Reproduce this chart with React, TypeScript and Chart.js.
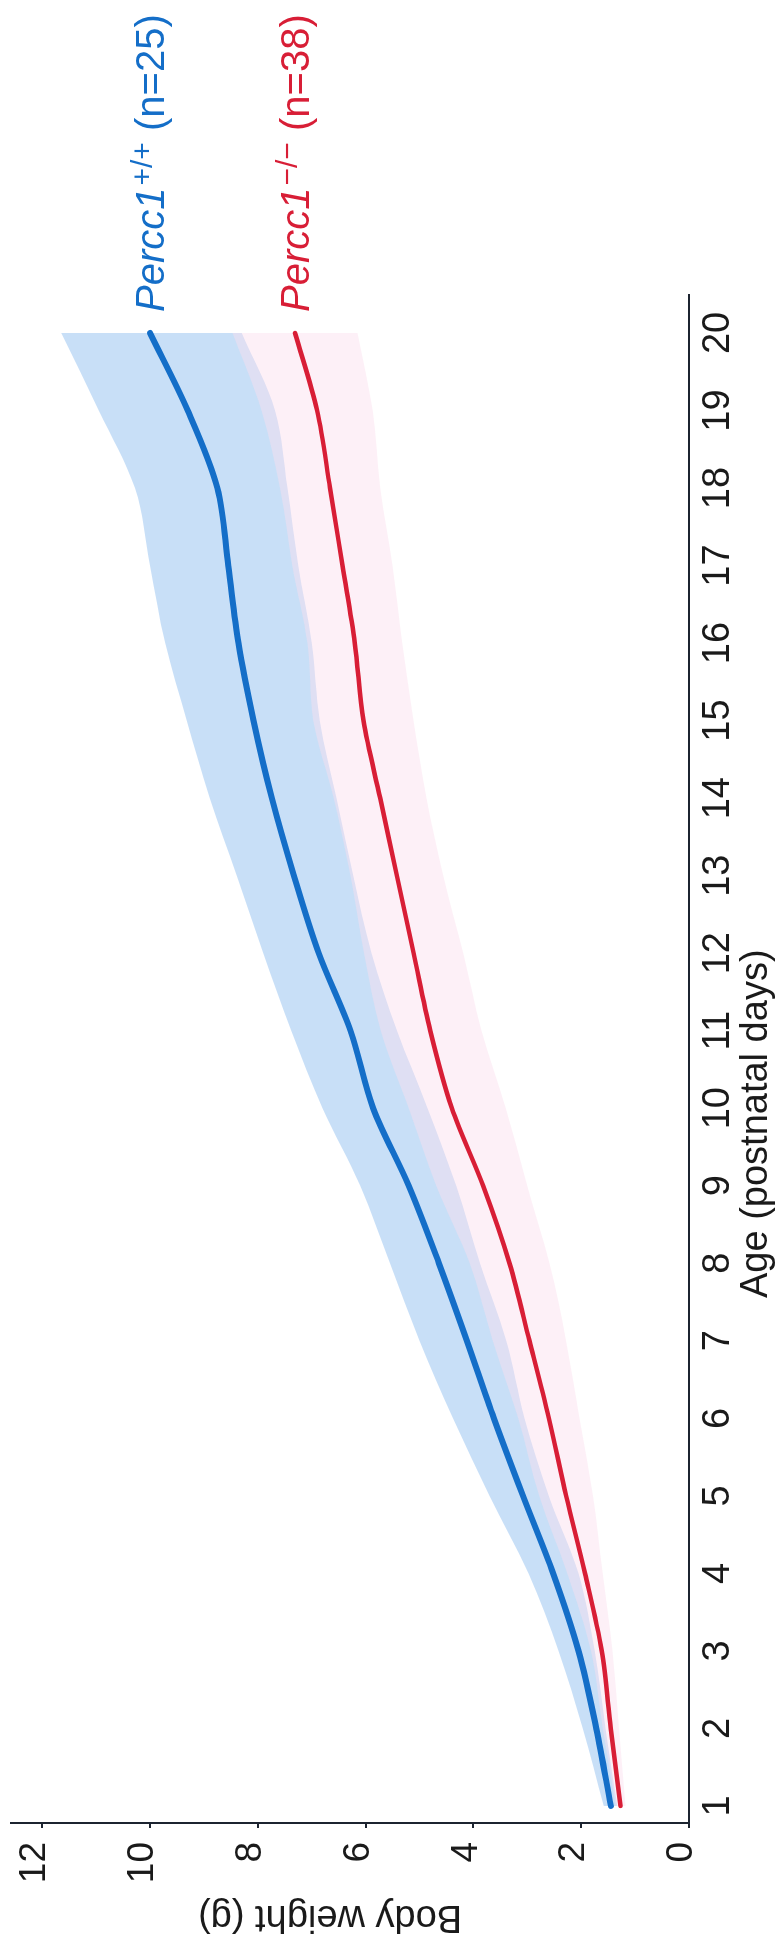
import { useEffect, useRef } from "react";
import { Chart, registerables } from "chart.js";

Chart.register(...registerables);

// Age (postnatal days)
const days = [1, 2, 3, 4, 5, 6, 7, 8, 9, 10, 11, 12, 13, 14, 15, 16, 17, 18, 19, 20];

// Percc1 +/+ (n=25): mean body weight (g) and shaded band edges
const wtMean = [1.45, 1.72, 2.05, 2.52, 3.08, 3.62, 4.12, 4.64, 5.2, 5.86, 6.28, 6.87, 7.33, 7.74, 8.08, 8.36, 8.55, 8.75, 9.3, 10.0];
const wtUpper = [1.58, 1.97, 2.42, 2.98, 3.7, 4.38, 5.0, 5.55, 6.1, 6.8, 7.38, 7.9, 8.39, 8.89, 9.32, 9.72, 10.0, 10.28, 10.95, 11.65];
const wtLower = [1.33, 1.55, 1.75, 2.05, 2.6, 3.05, 3.39, 3.88, 4.32, 4.85, 5.42, 5.89, 6.23, 6.54, 6.85, 7.0, 7.25, 7.45, 7.68, 8.3];

// Percc1 -/- (n=38): mean body weight (g) and shaded band edges
const koMean = [1.27, 1.45, 1.62, 1.93, 2.28, 2.6, 2.96, 3.33, 3.82, 4.4, 4.8, 5.11, 5.42, 5.73, 6.04, 6.2, 6.43, 6.66, 6.9, 7.31];
const koUpper = [1.36, 1.6, 1.82, 2.26, 2.78, 3.17, 3.64, 4.07, 4.69, 5.2, 5.72, 6.03, 6.28, 6.59, 6.97, 7.08, 7.36, 7.59, 7.93, 8.47];
const koLower = [1.18, 1.3, 1.42, 1.6, 1.78, 2.03, 2.28, 2.59, 3.0, 3.4, 3.85, 4.19, 4.56, 4.87, 5.11, 5.32, 5.5, 5.73, 5.87, 6.15];

const weightTicks = [0, 2, 4, 6, 8, 10, 12];

const xTitle = "Age (postnatal days)";
const yTitle = "Body weight (g)";
const wtName = "Percc1";
const wtSup = "+/+";
const wtN = " (n=25)";
const koName = "Percc1";
const koSup = "\u2212/\u2212";
const koN = " (n=38)";

const BLUE = "#146ec8";
const RED = "#d81e36";
const AXIS = "#1c2430";
const TEXT = "#1a1a1a";
const FONT = '"Liberation Sans", Arial, Helvetica, sans-serif';

const W = 1946;
const H = 783;

const pts = (vals: number[]) => days.map((d, i) => ({ x: d, y: vals[i] }));

export default function App() {
  const ref = useRef<HTMLCanvasElement | null>(null);

  useEffect(() => {
    if (!ref.current) return;

    const annotations = {
      id: "annotations",
      afterDraw(chart: any) {
        const { ctx, scales, chartArea } = chart;
        const x = scales.x;
        const y = scales.y;
        ctx.save();
        // axis titles
        ctx.fillStyle = TEXT;
        ctx.font = `38px ${FONT}`;
        ctx.textAlign = "center";
        ctx.textBaseline = "middle";
        ctx.fillText(xTitle, x.getPixelForValue(9.8), chartArea.bottom + 68);
        ctx.save();
        ctx.translate(30, y.getPixelForValue(6.66));
        ctx.rotate(-Math.PI / 2);
        ctx.fillText(yTitle, 0, 0);
        ctx.restore();

        // series labels at line ends
        const drawLabel = (name: string, sup: string, n: string, val: number, color: string) => {
          let px = x.getPixelForValue(days[days.length - 1]) + 21;
          const base = y.getPixelForValue(val) + 14;
          ctx.fillStyle = color;
          ctx.textAlign = "left";
          ctx.textBaseline = "alphabetic";
          ctx.font = `italic 40px ${FONT}`;
          ctx.fillText(name, px, base);
          px += ctx.measureText(name).width + 2;
          ctx.font = `30px ${FONT}`;
          ctx.fillText(sup, px, base - 12);
          px += ctx.measureText(sup).width;
          ctx.font = `40px ${FONT}`;
          ctx.fillText(n, px, base);
        };
        drawLabel(wtName, wtSup, wtN, wtMean[wtMean.length - 1], BLUE);
        drawLabel(koName, koSup, koN, koMean[koMean.length - 1], RED);
        ctx.restore();
      },
    };

    const band = (data: number[], color: string | undefined, fill: any, order: number) => ({
      data: pts(data),
      borderWidth: 0,
      pointRadius: 0,
      backgroundColor: color,
      fill,
      cubicInterpolationMode: "monotone",
      order,
    });

    const chart = new Chart(ref.current, {
      type: "line",
      data: {
        datasets: [
          {
            label: "Percc1+/+ (n=25)",
            data: pts(wtMean),
            borderColor: BLUE,
            borderWidth: 6,
            borderCapStyle: "round",
            borderJoinStyle: "round",
            pointRadius: 0,
            fill: false,
            cubicInterpolationMode: "monotone",
            order: 0,
          },
          {
            label: "Percc1-/- (n=38)",
            data: pts(koMean),
            borderColor: RED,
            borderWidth: 4.5,
            borderCapStyle: "round",
            borderJoinStyle: "round",
            pointRadius: 0,
            fill: false,
            cubicInterpolationMode: "monotone",
            order: 1,
          },
          { label: "ko upper", ...band(koUpper, "rgba(250,222,238,0.45)", "+1", 2) },
          { label: "ko lower", ...band(koLower, undefined, false, 3) },
          { label: "wt upper", ...band(wtUpper, "rgba(125,178,235,0.42)", "+1", 4) },
          { label: "wt lower", ...band(wtLower, undefined, false, 5) },
        ] as any,
      },
      options: {
        animation: false,
        responsive: false,
        maintainAspectRatio: false,
        devicePixelRatio: 1,
        layout: { padding: { left: 0, right: 295, top: 11, bottom: 0 } },
        plugins: {
          legend: { display: false },
          tooltip: { enabled: false },
          title: { display: false },
        },
        scales: {
          x: {
            type: "linear",
            position: "bottom",
            min: 0.78,
            max: 20.49,
            afterBuildTicks: (s: any) => {
              s.ticks = days.map((v) => ({ value: v }));
            },
            afterFit: (s: any) => {
              s.height = 94;
              s.paddingLeft = 0;
              s.paddingRight = 0;
            },
            grid: { display: false },
            border: { display: true, color: AXIS, width: 2 },
            ticks: {
              color: TEXT,
              font: { family: FONT, size: 38, lineHeight: 1 },
              padding: 3,
              maxRotation: 0,
              autoSkip: false,
            },
            title: { display: false },
          },
          y: {
            type: "linear",
            position: "left",
            min: 0,
            max: 12.58,
            afterBuildTicks: (s: any) => {
              s.ticks = weightTicks.map((v) => ({ value: v }));
            },
            afterFit: (s: any) => {
              s.width = 123;
              s.paddingTop = 0;
              s.paddingBottom = 0;
            },
            grid: {
              display: true,
              drawOnChartArea: false,
              drawTicks: true,
              tickLength: 5,
              color: AXIS,
              lineWidth: 2,
            },
            border: { display: true, color: AXIS, width: 2 },
            ticks: {
              color: TEXT,
              font: { family: FONT, size: 37, lineHeight: 1 },
              padding: 14,
              labelOffset: -7,
              autoSkip: false,
            },
            title: { display: false },
          },
        },
      } as any,
      plugins: [annotations],
    });

    return () => chart.destroy();
  }, []);

  return (
    <div
      style={{
        position: "absolute",
        left: 0,
        top: 0,
        width: H,
        height: W,
        overflow: "hidden",
        background: "#ffffff",
      }}
    >
      <div
        style={{
          position: "absolute",
          left: 0,
          top: 0,
          width: W,
          height: H,
          transformOrigin: "0 0",
          transform: `translateY(${W}px) rotate(-90deg)`,
        }}
      >
        <canvas ref={ref} width={W} height={H} style={{ display: "block", width: W, height: H }} />
      </div>
    </div>
  );
}
